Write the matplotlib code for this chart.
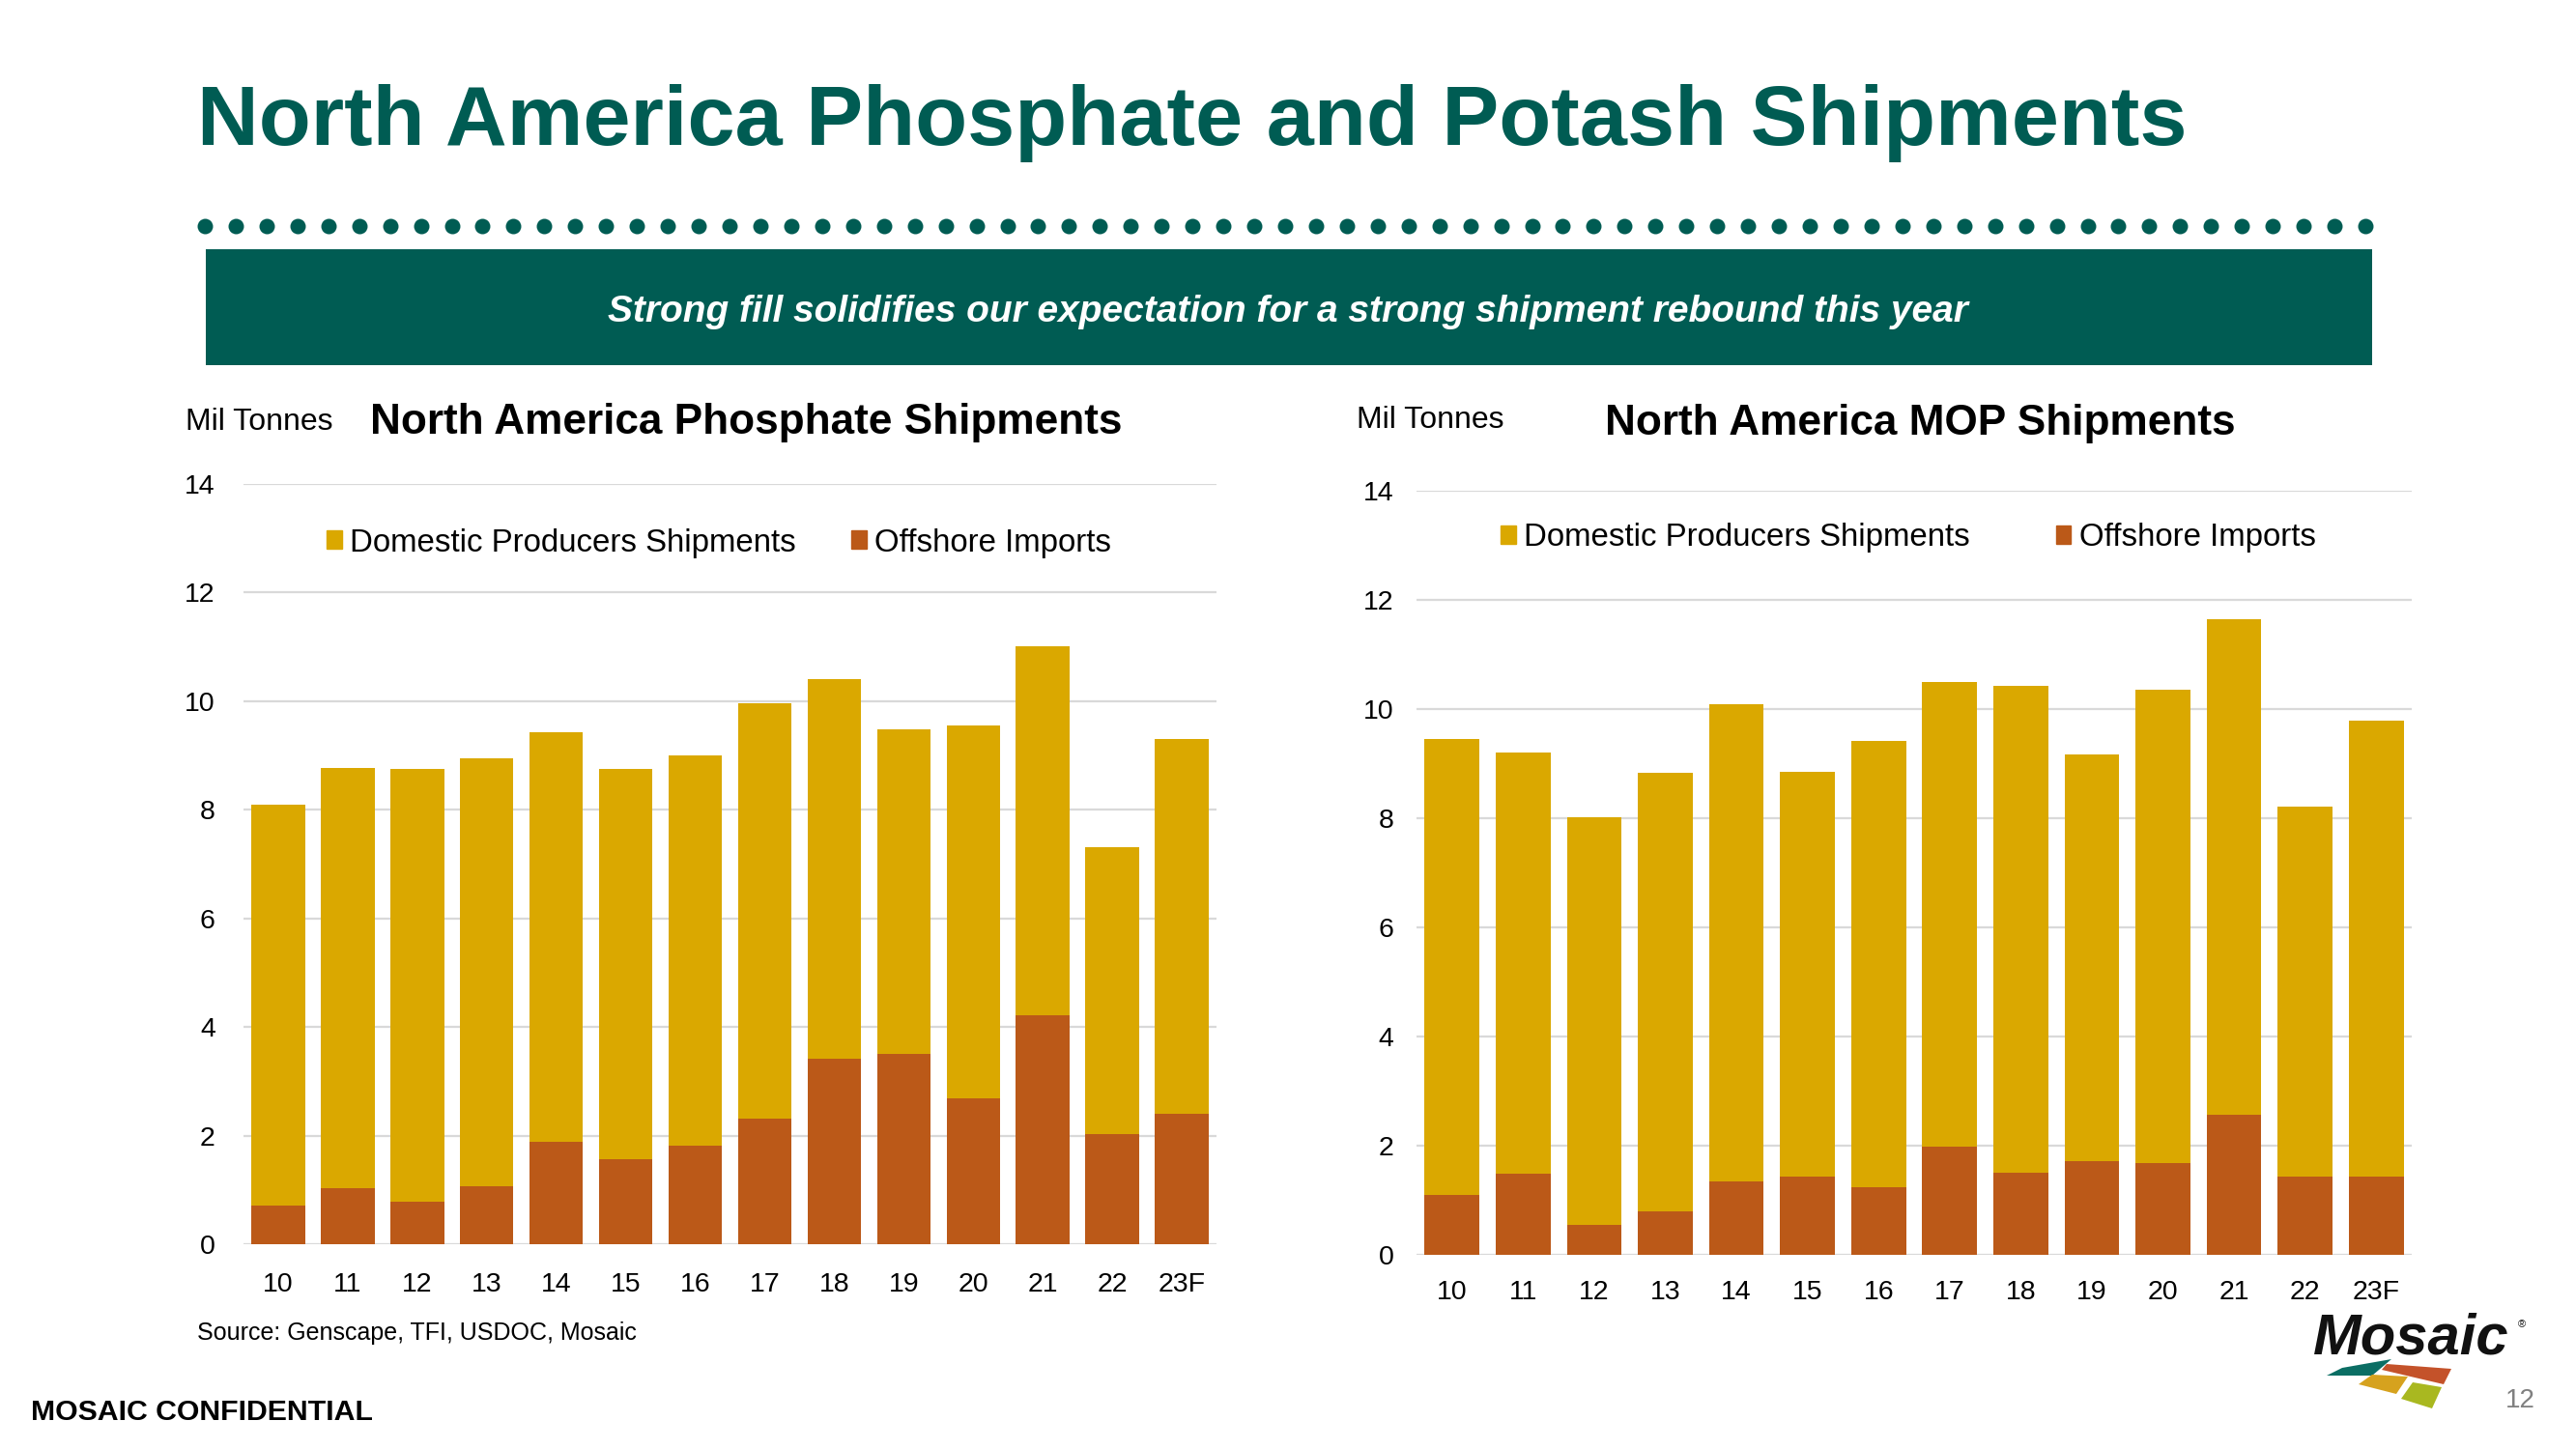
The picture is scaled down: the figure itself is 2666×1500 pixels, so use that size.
import numpy as np
import matplotlib
matplotlib.use("Agg")
import matplotlib.pyplot as plt
from matplotlib.patches import Rectangle, Polygon, Patch

plt.rcParams['font.family'] = ['Liberation Sans', 'DejaVu Sans']

# data (Mil Tonnes)
years = ["10", "11", "12", "13", "14", "15", "16", "17", "18", "19", "20", "21", "22", "23F"]
phos_domestic = [7.39, 7.74, 7.97, 7.88, 7.55, 7.18, 7.19, 7.65, 6.99, 5.98, 6.86, 6.79, 5.29, 6.89]
phos_offshore = [0.71, 1.03, 0.79, 1.07, 1.88, 1.57, 1.81, 2.32, 3.42, 3.51, 2.69, 4.22, 2.02, 2.41]
mop_domestic = [8.36, 7.72, 7.46, 8.03, 8.74, 7.41, 8.18, 8.51, 8.92, 7.44, 8.67, 9.09, 6.78, 8.34]
mop_offshore = [1.10, 1.49, 0.55, 0.80, 1.35, 1.44, 1.24, 1.98, 1.51, 1.72, 1.69, 2.56, 1.43, 1.44]
yticks = [0, 2, 4, 6, 8, 10, 12, 14]

TEAL = "#005C53"
GOLD = "#DAA800"
RUST = "#BB5918"
GRID = "#D9D9D9"

W, H = 2666, 1500
fig = plt.figure(figsize=(W / 100, H / 100), dpi=100)

# background layer in pixel coordinates (y down)
bg = fig.add_axes([0, 0, 1, 1])
bg.set_xlim(0, W)
bg.set_ylim(H, 0)
bg.axis("off")

bg.text(204, 150, "North America Phosphate and Potash Shipments", fontsize=63.6,
        fontweight="bold", color=TEAL, va="baseline", ha="left")

dot_x = np.linspace(212, 2448, 71)
bg.plot(dot_x, np.full(len(dot_x), 234), "o", ms=11.5, color=TEAL, mec="none")

bg.add_patch(Rectangle((213, 258), 2242, 120, color=TEAL, lw=0))
bg.text(1333, 333, "Strong fill solidifies our expectation for a strong shipment rebound this year",
        fontsize=28, fontweight="bold", style="italic", color="white", va="baseline", ha="center")

bg.text(192, 445, "Mil Tonnes", fontsize=23, va="baseline")
bg.text(383, 449, "North America Phosphate Shipments", fontsize=31.8, fontweight="bold", va="baseline")
bg.text(1404, 443, "Mil Tonnes", fontsize=23, va="baseline")
bg.text(1661, 450, "North America MOP Shipments", fontsize=31.8, fontweight="bold", va="baseline")

bg.text(204, 1387, "Source: Genscape, TFI, USDOC, Mosaic", fontsize=18, va="baseline")
bg.text(32, 1470, "MOSAIC CONFIDENTIAL", fontsize=21.8, fontweight="bold", va="baseline")
bg.text(2593, 1457, "12", fontsize=20, color="#808080", va="baseline")

# logo (sits just under the right chart's last tick labels)
bg.text(2394, 1402, "Mosaic", fontsize=43, fontweight="bold", style="italic", color="#111111",
        va="baseline")
bg.text(2606, 1374, "®", fontsize=8, color="#111111", va="baseline")
logo_shapes = [
    ([(2408, 1424), (2424, 1416), (2475, 1407), (2455, 1424)], "#0B6E64"),
    ([(2465, 1418), (2470, 1412), (2537, 1417), (2529, 1433)], "#C4522A"),
    ([(2441, 1433), (2455, 1423), (2492, 1425), (2480, 1443)], "#D6A21E"),
    ([(2485, 1448), (2497, 1431), (2527, 1436), (2517, 1458)], "#A9B820"),
]
for pts, col in logo_shapes:
    bg.add_patch(Polygon(pts, closed=True, color=col, lw=0))


def draw_chart(rect, domestic, offshore, ypad, xpad, leg_anchor, colspace):
    ax = fig.add_axes(rect)
    x = np.arange(len(years))
    ax.bar(x, offshore, width=0.77, color=RUST, zorder=3)
    ax.bar(x, domestic, width=0.77, bottom=offshore, color=GOLD, zorder=3)
    ax.set_xlim(-0.5, len(years) - 0.5)
    ax.set_ylim(0, 14)
    ax.set_yticks(yticks)
    ax.set_xticks(x)
    ax.set_xticklabels(years)
    ax.grid(axis="y", color=GRID, lw=1.6, zorder=0)
    ax.set_axisbelow(True)
    for s in ax.spines.values():
        s.set_visible(False)
    ax.tick_params(axis="y", length=0, pad=ypad, labelsize=20.5)
    ax.tick_params(axis="x", length=0, pad=xpad, labelsize=20.5)
    ax.set_facecolor("none")
    handles = [Patch(color=GOLD, label="Domestic Producers Shipments"),
               Patch(color=RUST, label="Offshore Imports")]
    ax.legend(handles=handles, loc="center left", bbox_to_anchor=leg_anchor,
              bbox_transform=fig.transFigure, ncol=2, frameon=False, fontsize=23.8,
              handlelength=0.47, handleheight=0.52, handletextpad=0.25,
              columnspacing=colspace, borderpad=0, borderaxespad=0)
    return ax


draw_chart([252 / W, 1 - 1288 / H, 1007 / W, 787 / H], phos_domestic, phos_offshore,
           21, 21, (338 / W, 1 - 562 / H), 1.75)
draw_chart([1466 / W, 1 - 1299 / H, 1030 / W, 791 / H], mop_domestic, mop_offshore,
           17, 19, (1553 / W, 1 - 557 / H), 2.7)

fig.savefig("out.png", dpi=100)
